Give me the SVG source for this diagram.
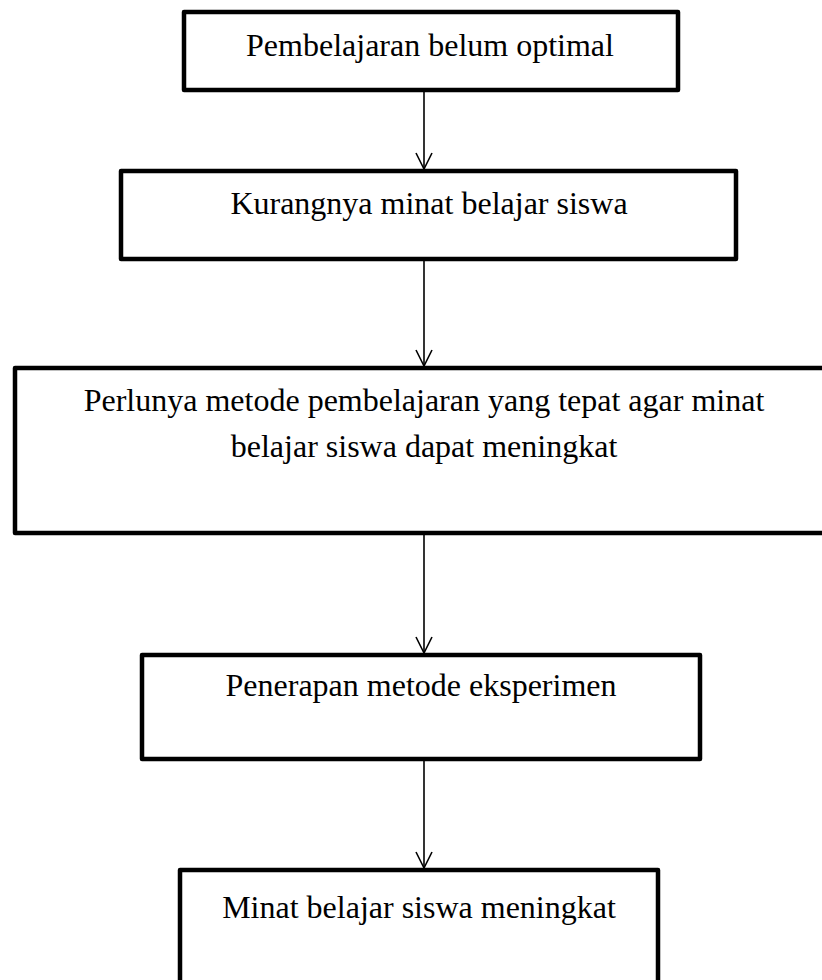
<svg xmlns="http://www.w3.org/2000/svg" width="822" height="980" viewBox="0 0 822 980">
<style>
.box{fill:#fff;stroke:#000;stroke-width:4.5;stroke-linejoin:round}
.t{font-family:"Liberation Serif","Times New Roman",serif;font-size:32px;fill:#000;text-anchor:middle}
.c{stroke:#000;stroke-width:1.6;fill:none}
</style>
<rect width="822" height="980" fill="#fff"/>
<g id="connectors">
<line class="c" x1="424" y1="92" x2="424" y2="169"/>
<line class="c" x1="424" y1="261" x2="424" y2="366"/>
<line class="c" x1="424" y1="535" x2="424" y2="653"/>
<line class="c" x1="424" y1="761" x2="424" y2="868"/>
<path class="c" d="M416,153 L424,169 L432,153"/>
<path class="c" d="M416,350 L424,366 L432,350"/>
<path class="c" d="M416,637 L424,653 L432,637"/>
<path class="c" d="M416,852 L424,868 L432,852"/>
</g>
<g id="n1">
<rect class="box" x="184" y="12" width="494" height="78"/>
<text class="t" x="430" y="56">Pembelajaran belum optimal</text>
</g>
<g id="n2">
<rect class="box" x="121" y="171" width="615" height="88"/>
<text class="t" x="429" y="214">Kurangnya minat belajar siswa</text>
</g>
<g id="n3">
<rect class="box" x="15" y="368" width="820" height="165"/>
<text class="t" x="424" y="411">Perlunya metode pembelajaran yang tepat agar minat</text>
<text class="t" x="424" y="457">belajar siswa dapat meningkat</text>
</g>
<g id="n4">
<rect class="box" x="142" y="655" width="558" height="104"/>
<text class="t" x="421" y="696">Penerapan metode eksperimen</text>
</g>
<g id="n5">
<rect class="box" x="180" y="870" width="478" height="130"/>
<text class="t" x="419" y="918">Minat belajar siswa meningkat</text>
</g>
</svg>
